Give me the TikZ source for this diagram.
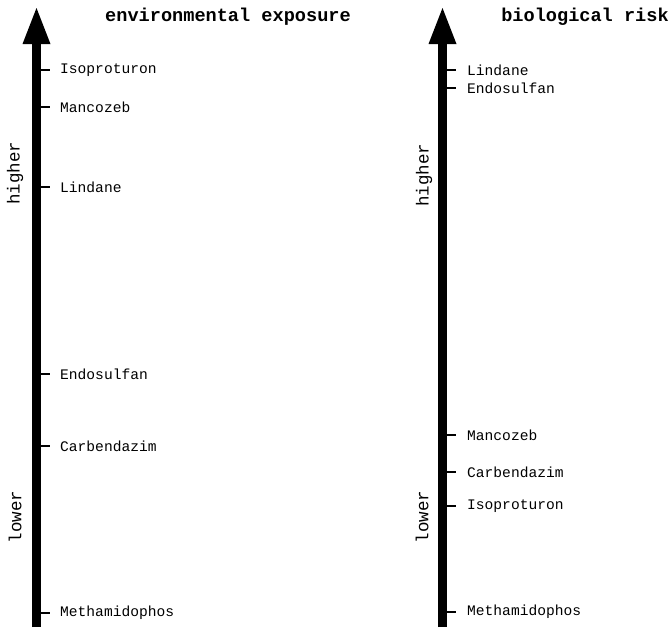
\documentclass[tikz,border=0pt]{standalone}
\usepackage{fontspec}
\setmonofont{Liberation Mono}
\begin{document}
\begin{tikzpicture}[x=1pt,y=-1pt,
  shaft/.style={line width=8.5pt},
  tickmark/.style={line width=1.3pt},
  lbl/.style={anchor=west,inner sep=0pt,font=\ttfamily\fontsize{14.6}{14.6}\selectfont},
  ttl/.style={inner sep=0pt,font=\ttfamily\bfseries\fontsize{18.6}{18.6}\selectfont},
  side/.style={inner sep=0pt,rotate=90,font=\ttfamily\fontsize{17.5}{17.5}\selectfont}]
\useasboundingbox (0,0) rectangle (672,627);
% left axis
\coordinate (Lb) at (36.5,627);
\coordinate (Lt) at (36.5,42);
\draw[shaft] (Lb) -- (Lt);
\fill (36.5,8) -- (50.5,44) -- (22.5,44) -- cycle;
\node[ttl] (t1) at (228,17) {environmental exposure};
\node[side] (h1) at (15,173) {higher};
\node[side] (w1) at (15,517) {lower};
\foreach \n/\yy/\t in {a/70/Isoproturon,b/107/Mancozeb,c/187/Lindane,d/374/Endosulfan,e/446/Carbendazim,f/613/Methamidophos}{
  \coordinate (L\n s) at (40,\yy);
  \coordinate (L\n e) at (50,\yy);
  \draw[tickmark] (L\n s) -- (L\n e);
  \node[lbl] (L\n) at (60,\yy) {\t};
}
% right axis
\coordinate (Rb) at (442.5,627);
\coordinate (Rt) at (442.5,42);
\draw[shaft] (Rb) -- (Rt);
\fill (442.5,8) -- (456.5,44) -- (428.5,44) -- cycle;
\node[ttl] (t2) at (585,17) {biological risk};
\node[side] (h2) at (424,175) {higher};
\node[side] (w2) at (422,517) {lower};
\foreach \n/\yy/\t in {a/70/Lindane,b/88/Endosulfan,c/435/Mancozeb,d/472/Carbendazim,e/506/Isoproturon,f/612/Methamidophos}{
  \coordinate (R\n s) at (446,\yy);
  \coordinate (R\n e) at (456,\yy);
  \draw[tickmark] (R\n s) -- (R\n e);
  \node[lbl] (R\n) at (467,\yy) {\t};
}
\end{tikzpicture}
\end{document}
